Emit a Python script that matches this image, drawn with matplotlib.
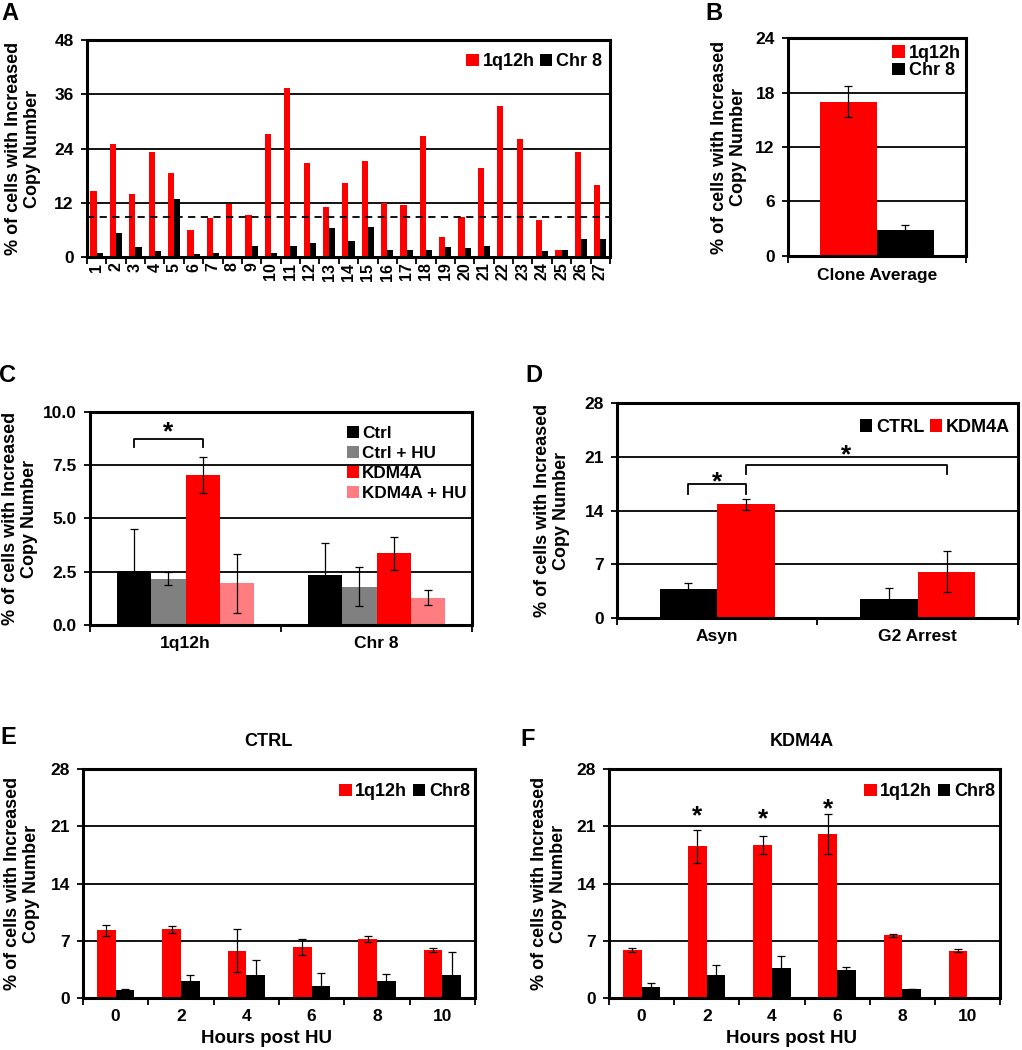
import numpy as np
import matplotlib
matplotlib.use("Agg")
import matplotlib.pyplot as plt
from matplotlib.ticker import FormatStrFormatter

plt.rcParams['font.family'] = ['Liberation Sans', 'DejaVu Sans']
plt.rcParams['font.weight'] = 'bold'
plt.rcParams['axes.labelweight'] = 'bold'

RED = '#ff0000'
BLACK = '#000000'
GREY = '#808080'
PINK = '#ff7c80'
YLABEL = '% of cells with Increased\nCopy Number'

# A - individual clones
clones = ['1', '2', '3', '4', '5', '6', '7', '8', '9', '10', '11', '12', '13', '14',
          '15', '16', '17', '18', '19', '20', '21', '22', '23', '24', '25', '26', '27']
clone_1q12h = [14.7, 24.9, 13.9, 23.2, 18.5, 6.0, 8.6, 11.8, 9.4, 27.2, 37.3, 20.7, 11.0, 16.4,
               21.3, 12.0, 11.4, 26.8, 4.4, 8.8, 19.7, 33.3, 26.2, 8.3, 1.5, 23.3, 15.9]
clone_chr8 = [0.8, 5.3, 2.3, 1.3, 12.8, 0.7, 1.0, 0.0, 2.5, 0.8, 2.5, 3.2, 6.5, 3.5,
              6.7, 1.5, 1.5, 1.5, 2.3, 2.1, 2.5, 0.0, 0.0, 1.3, 1.5, 4.1, 3.9]
clone_cutoff = 8.85

# B - clone average
avg_label = ['Clone Average']
avg_1q12h = [17.0]
avg_1q12h_err = [1.7]
avg_chr8 = [2.9]
avg_chr8_err = [0.5]

# C - HU treatment
hu_groups = ['1q12h', 'Chr 8']
hu_names = ['Ctrl', 'Ctrl + HU', 'KDM4A', 'KDM4A + HU']
hu_ctrl = [2.55, 2.34]
hu_ctrl_err = [1.95, 1.53]
hu_ctrl_hu = [2.17, 1.80]
hu_ctrl_hu_err = [0.30, 0.90]
hu_kdm = [7.05, 3.37]
hu_kdm_err = [0.85, 0.78]
hu_kdm_hu = [1.95, 1.28]
hu_kdm_hu_err = [1.38, 0.35]

# D - G2 arrest
arrest_groups = ['Asyn', 'G2 Arrest']
arrest_ctrl = [3.73, 2.47]
arrest_ctrl_err = [0.87, 1.5]
arrest_kdm = [14.8, 6.03]
arrest_kdm_err = [0.74, 2.7]

# E/F - time course after HU
hours = ['0', '2', '4', '6', '8', '10']
ctrl_1q12h = [8.26, 8.38, 5.80, 6.26, 7.24, 5.89]
ctrl_1q12h_err = [0.70, 0.45, 2.66, 1.0, 0.37, 0.22]
ctrl_chr8 = [1.02, 2.13, 2.86, 1.51, 2.13, 2.86]
ctrl_chr8_err = [0.1, 0.73, 1.8, 1.6, 0.85, 2.8]
kdm_1q12h = [5.90, 18.53, 18.65, 20.0, 7.67, 5.80]
kdm_1q12h_err = [0.25, 2.0, 1.1, 2.45, 0.2, 0.2]
kdm_chr8 = [1.30, 2.86, 3.67, 3.43, 1.10, 0.0]
kdm_chr8_err = [0.58, 1.22, 1.51, 0.41, 0.05, 0.0]

ERR = dict(ecolor='black', elinewidth=0.9, capsize=3, capthick=0.9)


def style_axes(ax, labels, ymax, ystep, label_x):
    n = len(labels)
    ax.set_xlim(-0.5, n - 0.5)
    ax.set_ylim(0, ymax)
    ax.set_yticks(np.arange(0, ymax + ystep / 2, ystep))
    ax.yaxis.grid(True, color='black', linewidth=1.3)
    ax.set_axisbelow(True)
    ax.set_xticks(np.arange(n))
    ax.set_xticklabels(labels)
    ax.set_xticks(np.arange(n + 1) - 0.5, minor=True)
    ax.tick_params(axis='x', which='major', length=0, pad=8, labelsize=12.5)
    ax.tick_params(axis='x', which='minor', length=5, width=1.3, direction='out')
    ax.tick_params(axis='y', length=4.5, width=1.3, pad=5, labelsize=12.5)
    for s in ax.spines.values():
        s.set_linewidth(2.2)
    ax.set_ylabel(YLABEL, fontsize=13, linespacing=1.15)
    ax.yaxis.set_label_coords(label_x, 0.5)


def legend(ax, loc, anchor, ncol=1, spacing=0.15, size=13):
    ax.legend(loc=loc, bbox_to_anchor=anchor, ncol=ncol, frameon=False, fontsize=size,
              handlelength=0.7, handleheight=0.7, handletextpad=0.2, columnspacing=0.3,
              labelspacing=spacing, borderpad=0, borderaxespad=0)


def star(ax, x, y):
    ax.text(x, y, '*', ha='center', va='center', fontsize=19)


def bracket(ax, x0, x1, top, low, star_y):
    ax.plot([x0, x0, x1, x1], [low, top, top, low], color='black', linewidth=1.3)
    star(ax, (x0 + x1) / 2, star_y)


fig = plt.figure(figsize=(10.22, 10.5), dpi=100)

# ---- A
ax = fig.add_axes([0.0851, 0.7552, 0.5117, 0.2067])
x = np.arange(len(clones))
w = 0.32
ax.bar(x - w / 2, clone_1q12h, w, color=RED, label='1q12h')
ax.bar(x + w / 2, clone_chr8, w, color=BLACK, label='Chr 8')
ax.axhline(clone_cutoff, color='black', linestyle='--', linewidth=1.3, dashes=(4, 3))
style_axes(ax, clones, 48, 12, -0.088)
ax.tick_params(axis='x', which='major', pad=4, labelsize=11.5, labelrotation=90)
legend(ax, 'center right', (0.985, 0.9), ncol=2)

# ---- B
ax = fig.add_axes([0.771, 0.7562, 0.1742, 0.2076])
w = 0.32
ax.bar([-w / 2], avg_1q12h, w, color=RED, yerr=avg_1q12h_err, error_kw=ERR, label='1q12h')
ax.bar([w / 2], avg_chr8, w, color=BLACK, yerr=avg_chr8_err, error_kw=ERR, label='Chr 8')
style_axes(ax, avg_label, 24, 6, -0.23)
ax.tick_params(axis='x', which='major', pad=9)
legend(ax, 'center right', (0.97, 0.89), spacing=0.05)

# ---- C
ax = fig.add_axes([0.0881, 0.4048, 0.3738, 0.2029])
x = np.arange(len(hu_groups))
w = 0.18
series = [(hu_ctrl, hu_ctrl_err, BLACK), (hu_ctrl_hu, hu_ctrl_hu_err, GREY),
          (hu_kdm, hu_kdm_err, RED), (hu_kdm_hu, hu_kdm_hu_err, PINK)]
for i, (vals, err, col) in enumerate(series):
    ax.bar(x + (i - 1.5) * w, vals, w, color=col, yerr=err, error_kw=ERR, label=hu_names[i])
style_axes(ax, hu_groups, 10, 2.5, -0.136)
ax.yaxis.set_major_formatter(FormatStrFormatter('%.1f'))
bracket(ax, -1.5 * w, 0.5 * w, 8.75, 8.35, 9.05)
legend(ax, 'center left', (0.672, 0.758), spacing=0.28, size=12.3)

# ---- D
ax = fig.add_axes([0.6037, 0.4114, 0.3924, 0.2048])
x = np.arange(len(arrest_groups))
w = 0.287
ax.bar(x - w / 2, arrest_ctrl, w, color=BLACK, yerr=arrest_ctrl_err, error_kw=ERR, label='CTRL')
ax.bar(x + w / 2, arrest_kdm, w, color=RED, yerr=arrest_kdm_err, error_kw=ERR, label='KDM4A')
style_axes(ax, arrest_groups, 28, 7, -0.117)
bracket(ax, -w / 2, w / 2, 17.5, 16.2, 17.7)
bracket(ax, w / 2, 1 + w / 2, 19.96, 18.7, 21.2)
legend(ax, 'center right', (0.98, 0.888), ncol=2)

# ---- E / F
panels = [
    ([0.0812, 0.0495, 0.3836, 0.2181], ctrl_1q12h, ctrl_1q12h_err, ctrl_chr8, ctrl_chr8_err,
     'CTRL', 0.474, -0.11, []),
    ([0.5959, 0.0495, 0.3826, 0.2181], kdm_1q12h, kdm_1q12h_err, kdm_chr8, kdm_chr8_err,
     'KDM4A', 0.494, -0.107, [(1, 22.2), (2, 21.9), (3, 23.1)]),
]
w = 0.286
x = np.arange(len(hours))
for rect, red, red_err, blk, blk_err, title, title_x, lab_x, stars in panels:
    ax = fig.add_axes(rect)
    ax.bar(x - w / 2, red, w, color=RED, yerr=red_err, error_kw=ERR, label='1q12h')
    ax.bar(x + w / 2, blk, w, color=BLACK, yerr=blk_err, error_kw=ERR, label='Chr8')
    style_axes(ax, hours, 28, 7, lab_x)
    ax.set_xlabel('Hours post HU', fontsize=13.5)
    ax.xaxis.set_label_coords(0.467, -0.14)
    ax.text(title_x, 1.122, title, transform=ax.transAxes, ha='center', va='center', fontsize=13)
    for i, y in stars:
        star(ax, i - w / 2, y)
    legend(ax, 'center right', (0.987, 0.9), ncol=2)

# panel letters
for letter, px, py in [('A', 10, 13), ('B', 714, 13), ('C', 8, 375),
                       ('D', 534, 376), ('E', 8, 737), ('F', 528, 739)]:
    fig.text(px / 1022, 1 - py / 1050, letter, ha='center', va='center', fontsize=17)

fig.savefig('out.png', dpi=100)
